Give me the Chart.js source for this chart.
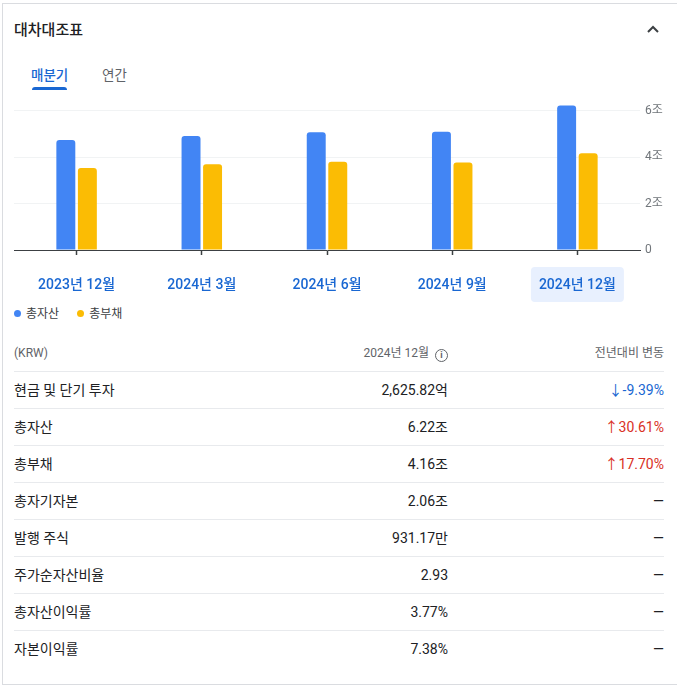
<!DOCTYPE html>
<html>
<head>
<meta charset="utf-8">
<script src="https://cdn.jsdelivr.net/npm/chart.js@4.4.1/dist/chart.umd.min.js"></script>
<style>
  body { margin: 0; background: #fff; font-family: Roboto, "Noto Sans CJK KR", sans-serif; color: #202124; }
  #page { position: relative; width: 677px; height: 694px; overflow: hidden; }
  .card { position: absolute; left: 2px; top: 3px; right: -2px; height: 680px; border-left: 1px solid #dadce0; border-top: 1px solid #dadce0; border-bottom: 1px solid #dadce0; }
  .title { position: absolute; left: 14px; top: 20px; font-size: 15px; line-height: 20px; font-weight: 500; }
  .chev { position: absolute; left: 646px; top: 24px; }
  .tab { position: absolute; top: 66px; font-size: 13.5px; line-height: 18px; }
  .tab.on { left: 31px; color: #1967d2; font-weight: 500; }
  .tab.off { left: 102px; color: #5f6368; }
  .tabline { position: absolute; left: 32px; top: 87px; width: 35px; height: 3px; background: #1967d2; border-radius: 3px 3px 0 0; }
  #chartBox { position: absolute; left: 0; top: 89px; width: 677px; height: 215px; }
  #legend { position: absolute; left: 14px; top: 306px; font-size: 12px; line-height: 16px; color: #3c4043; display: flex; gap: 18px; }
  #legend span.dot { display: inline-block; width: 7px; height: 7px; border-radius: 50%; margin-right: 5px; vertical-align: 1px; }
  #table { position: absolute; left: 14px; top: 336px; width: 650px; }
  .row { position: relative; height: 36px; border-top: 1px solid #e8eaed; font-size: 14px; }
  .row.head { height: 35px; border-top: none; font-size: 12px; color: #5f6368; }
  .row div { position: absolute; top: 0; line-height: 36px; white-space: nowrap; }
  .row.head div { line-height: 35px; }
  .c1 { left: 0; }
  .c2 { right: 216px; }
  .c3 { right: 0; }
  .up { color: #d93025; }
  .down { color: #1967d2; }
  .info { display: inline-block; width: 11px; height: 11px; border: 1.3px solid #5f6368; border-radius: 50%; font-size: 9px; line-height: 11px; text-align: center; margin-left: 6px; vertical-align: -1px; font-weight: 700; }
</style>
</head>
<body>
<div id="page">
  <div class="card"></div>
  <div class="title">대차대조표</div>
  <svg class="chev" width="14" height="10" viewBox="0 0 14 10"><polyline points="2,8 7,3 12,8" fill="none" stroke="#3c4043" stroke-width="2"/></svg>
  <div class="tab on">매분기</div>
  <div class="tab off">연간</div>
  <div class="tabline"></div>
  <div id="chartBox"><canvas id="bsChart"></canvas></div>
  <div id="legend"></div>
  <div id="table"></div>
</div>
<script>
const quarters = ['2023년 12월', '2024년 3월', '2024년 6월', '2024년 9월', '2024년 12월'];
const totalAssets = [4.73, 4.90, 5.06, 5.09, 6.22];       // 조 KRW
const totalLiabilities = [3.53, 3.69, 3.80, 3.76, 4.16];  // 조 KRW
const yTicks = [0, 2, 4, 6];
const seriesNames = ['총자산', '총부채'];
const seriesColors = ['#4285f4', '#fbbc04'];
const selectedQuarter = 4;

const tableHead = ['(KRW)', '2024년 12월', '전년대비 변동'];
const rowLabels = ['현금 및 단기 투자', '총자산', '총부채', '총자기자본', '발행 주식', '주가순자산비율', '총자산이익률', '자본이익률'];
const rowValues = ['2,625.82억', '6.22조', '4.16조', '2.06조', '931.17만', '2.93', '3.77%', '7.38%'];
const rowChanges = ['-9.39%', '30.61%', '17.70%', null, null, null, null, null];
const rowDirections = ['down', 'up', 'up', null, null, null, null, null];

const FONT = 'Roboto, "Noto Sans CJK KR", sans-serif';

// highlight pill behind the selected quarter label
const selectedPill = {
  id: 'selectedPill',
  beforeDraw(chart) {
    const x = chart.scales.x;
    const cx = x.getPixelForTick(selectedQuarter);
    const top = chart.chartArea.bottom + 17;
    const ctx = chart.ctx;
    ctx.save();
    ctx.fillStyle = '#e8f0fe';
    ctx.beginPath();
    ctx.roundRect(cx - 46.5, top, 93, 35, 4);
    ctx.fill();
    ctx.restore();
  }
};

new Chart(document.getElementById('bsChart'), {
  type: 'bar',
  data: {
    labels: quarters,
    datasets: [
      { label: seriesNames[0], data: totalAssets, backgroundColor: seriesColors[0] },
      { label: seriesNames[1], data: totalLiabilities, backgroundColor: seriesColors[1] }
    ]
  },
  options: {
    responsive: true,
    maintainAspectRatio: false,
    animation: false,
    layout: { padding: { left: 14, right: 0, top: 2, bottom: 0 } },
    datasets: {
      bar: { categoryPercentage: 0.344, barPercentage: 0.88, borderRadius: 3 }
    },
    plugins: { legend: { display: false }, tooltip: { enabled: false } },
    scales: {
      x: {
        border: { display: true, color: '#3c4043', width: 1 },
        grid: { display: true, offset: false, drawOnChartArea: false, drawTicks: true, tickLength: 5, color: '#3c4043', tickWidth: 1.5 },
        ticks: { color: '#1967d2', padding: 22, font: { family: FONT, size: 14, weight: '500' }, maxRotation: 0 },
        afterFit(scale) { scale.height = 54; }
      },
      y: {
        position: 'right',
        min: 0,
        max: 6.4,
        border: { display: false },
        grid: { drawTicks: false, color: ctx => ctx.tick && ctx.tick.value === 0 ? 'rgba(0,0,0,0)' : '#f1f3f4' },
        afterBuildTicks(scale) { scale.ticks = yTicks.map(v => ({ value: v })); },
        ticks: {
          padding: 5,
          color: '#70757a',
          font: { family: FONT, size: 12 },
          callback: v => v === 0 ? '0' : v + '조'
        },
        afterFit(scale) { scale.width = 37; }
      }
    }
  },
  plugins: [selectedPill]
});

// legend
document.getElementById('legend').innerHTML = seriesNames.map((n, i) =>
  `<div><span class="dot" style="background:${seriesColors[i]}"></span>${n}</div>`).join('');

// table
let html = `<div class="row head"><div class="c1">${tableHead[0]}</div>` +
  `<div class="c2">${tableHead[1]}<span class="info">i</span></div>` +
  `<div class="c3">${tableHead[2]}</div></div>`;
rowLabels.forEach((label, i) => {
  let change = '—';
  if (rowChanges[i]) {
    const arrow = rowDirections[i] === 'up' ? '↑' : '↓';
    change = `<span class="${rowDirections[i]}">${arrow}${rowChanges[i]}</span>`;
  }
  html += `<div class="row"><div class="c1">${label}</div><div class="c2">${rowValues[i]}</div><div class="c3">${change}</div></div>`;
});
document.getElementById('table').innerHTML = html;
</script>
</body>
</html>
